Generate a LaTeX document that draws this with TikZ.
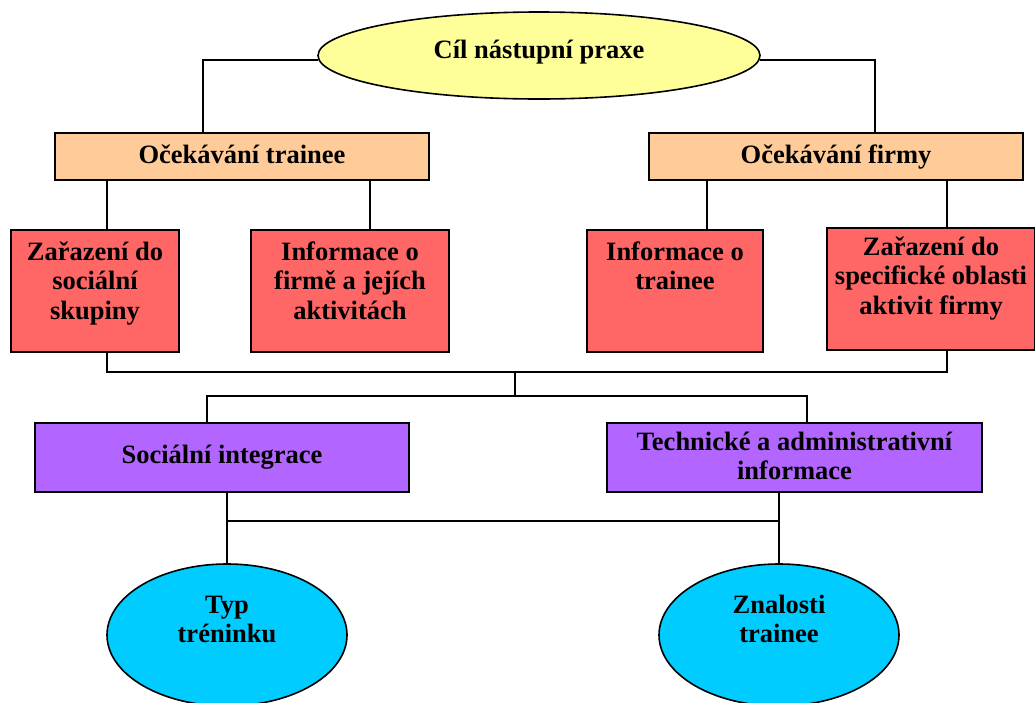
\documentclass[tikz,border=0pt]{standalone}
\usepackage{fontspec}
\setmainfont{Liberation Serif}
\usetikzlibrary{shapes.geometric,backgrounds}
\definecolor{goalY}{HTML}{FFFF99}
\definecolor{expO}{HTML}{FFCC99}
\definecolor{itemR}{HTML}{FF6666}
\definecolor{areaP}{HTML}{B266FF}
\definecolor{resC}{HTML}{00CCFF}
\newcommand{\mlines}[1]{\begin{tabular}[t]{@{}c@{}}#1\end{tabular}}
\begin{document}
\begin{tikzpicture}[x=1pt,y=-1pt,
  box/.style={draw=black,line width=1.6pt,inner sep=0pt,outer sep=0pt,rectangle},
  oval/.style={draw=black,line width=1.6pt,ellipse,inner sep=0pt,outer sep=0pt},
  txt/.style={font=\fontsize{26.5}{29.5}\selectfont\bfseries,inner sep=0pt,anchor=base},
  link/.style={draw=black,line width=1.6pt}]
\useasboundingbox (0,0) rectangle (1035,702);

% shapes
\node[oval,fill=goalY,minimum width=442pt,minimum height=87pt] (goal) at (539,55.5) {};
\node[box,fill=expO,minimum width=374pt,minimum height=47pt] (ot) at (242,156.5) {};
\node[box,fill=expO,minimum width=374pt,minimum height=47pt] (of) at (836,156.5) {};
\node[box,fill=itemR,minimum width=168pt,minimum height=122pt] (r1) at (95,291) {};
\node[box,fill=itemR,minimum width=198pt,minimum height=122pt] (r2) at (350,291) {};
\node[box,fill=itemR,minimum width=176pt,minimum height=122pt] (r3) at (675,291) {};
\node[box,fill=itemR,minimum width=208pt,minimum height=122pt] (r4) at (931,289) {};
\node[box,fill=areaP,minimum width=374pt,minimum height=69pt] (p1) at (222,457.5) {};
\node[box,fill=areaP,minimum width=375pt,minimum height=69pt] (p2) at (794.5,457.5) {};
\node[oval,fill=resC,minimum width=240pt,minimum height=142pt] (e1) at (227,635) {};
\node[oval,fill=resC,minimum width=240pt,minimum height=142pt] (e2) at (779,635) {};

% texts
\node[txt] (goalt) at (539,58) {Cíl nástupní praxe};
\node[txt] (ott) at (242,163) {Očekávání trainee};
\node[txt] (oft) at (836,163) {Očekávání firmy};
\node[txt] (r1t) at (95,260) {\mlines{Zařazení do\\sociální\\skupiny}};
\node[txt] (r2t) at (350,260) {\mlines{Informace o\\firmě a jejích\\aktivitách}};
\node[txt] (r3t) at (675,260) {\mlines{Informace o\\trainee}};
\node[txt] (r4t) at (931,255) {\mlines{Zařazení do\\specifické oblasti\\aktivit firmy}};
\node[txt] (p1t) at (222,463) {Sociální integrace};
\node[txt] (p2t) at (794.5,450) {\mlines{Technické a administrativní\\informace}};
\node[txt] (e1t) at (227,613) {\mlines{Typ\\tréninku}};
\node[txt] (e2t) at (779,613) {\mlines{Znalosti\\trainee}};

% connectors
\begin{scope}[on background layer]
\coordinate (bus1) at (515,372);
\coordinate (bus2) at (515,396);
\coordinate (bus3) at (500,521);
\draw[link] ([yshift=-4.5pt]goal.west) -| ([xshift=-39pt]ot.north);
\draw[link] ([yshift=-4.5pt]goal.east) -| ([xshift=39pt]of.north);
\draw[link] ([xshift=12pt]r1.north) -- ([xshift=12pt]r1.north |- ot.south);
\draw[link] ([xshift=20pt]r2.north) -- ([xshift=20pt]r2.north |- ot.south);
\draw[link] ([xshift=32pt]r3.north) -- ([xshift=32pt]r3.north |- of.south);
\draw[link] ([xshift=16pt]r4.north) -- ([xshift=16pt]r4.north |- of.south);
\draw[link] ([xshift=12pt]r1.south) |- (bus1) -| ([xshift=16pt]r4.south);
\draw[link] (bus1) -- (bus2);
\draw[link] ([xshift=-15pt]p1.north) |- (bus2) -| ([xshift=12.5pt]p2.north);
\draw[link] (e1.north) -- (e1.north |- p1.south);
\draw[link] (e2.north) -- (e2.north |- p2.south);
\draw[link] (e1.north |- bus3) -- (e2.north |- bus3);
\end{scope}
\end{tikzpicture}
\end{document}
